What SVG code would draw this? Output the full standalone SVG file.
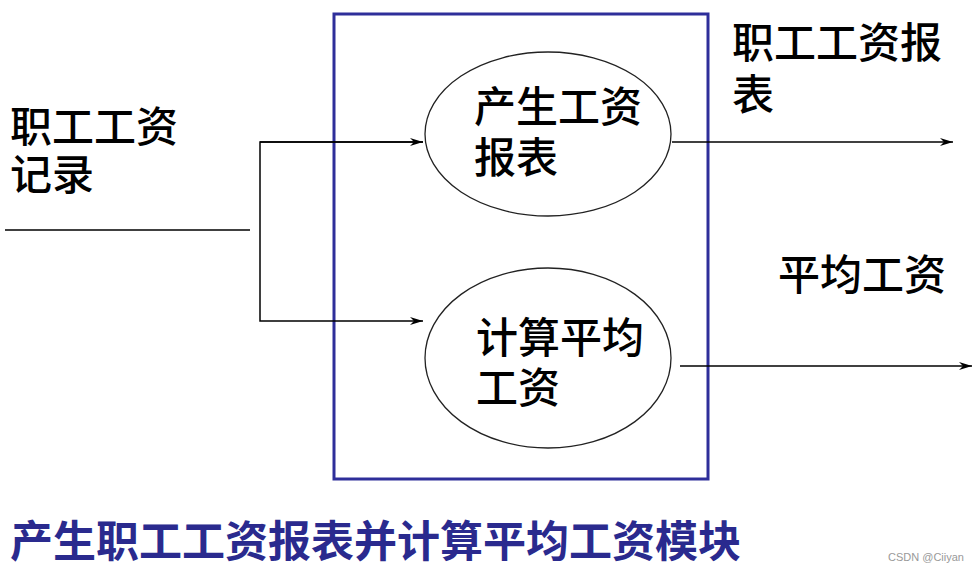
<svg xmlns="http://www.w3.org/2000/svg" width="977" height="575" viewBox="0 0 977 575">
<defs>
<marker id="arr" markerWidth="14" markerHeight="10" refX="13" refY="5" orient="auto" markerUnits="userSpaceOnUse">
<path d="M0,1 L13,5 L0,9 L4,5 Z" fill="#000"/>
</marker>
<style>
.t{font-family:"Noto Sans CJK SC","Noto Sans",sans-serif;font-size:42px;fill:#000;font-weight:500}
.e{fill:#fff;stroke:#222;stroke-width:1.3}
.c{fill:none;stroke:#000;stroke-width:1.5}
</style>
</defs>
<rect width="977" height="575" fill="#fff"/>
<g id="module">
<rect x="334" y="14" width="374" height="465" fill="none" stroke="#2e2e9a" stroke-width="3"/>
</g>
<g id="connectors">
<path class="c" d="M5,230 H250"/>
<path class="c" d="M423,142 H260 V321 H423" marker-end="url(#arr)"/>
<path class="c" d="M260,142 H423" marker-end="url(#arr)"/>
<path class="c" d="M672,142 H953" marker-end="url(#arr)"/>
<path class="c" d="M680,366 H972" marker-end="url(#arr)"/>
</g>
<g id="p1">
<ellipse class="e" cx="548" cy="134" rx="123" ry="82"/>
<text class="t" x="474" y="122">产生工资</text>
<text class="t" x="474" y="173">报表</text>
</g>
<g id="p2">
<ellipse class="e" cx="548" cy="358" rx="123" ry="90"/>
<text class="t" x="476" y="353">计算平均</text>
<text class="t" x="476" y="403">工资</text>
</g>
<g id="in-label">
<text class="t" x="10" y="142">职工工资</text>
<text class="t" x="10" y="190">记录</text>
</g>
<g id="out1-label">
<text class="t" x="732" y="58">职工工资报</text>
<text class="t" x="732" y="110">表</text>
</g>
<g id="out2-label">
<text class="t" x="778" y="290">平均工资</text>
</g>
<g id="title">
<text x="10" y="557" style="font-family:'Noto Sans CJK SC',sans-serif;font-size:43px;font-weight:700;fill:#2a2a8e">产生职工工资报表并计算平均工资模块</text>
<text x="888" y="561" style="font-family:'Liberation Sans',Arial,sans-serif;font-size:11px;fill:#999">CSDN @Ciiyan</text>
</g>
</svg>
